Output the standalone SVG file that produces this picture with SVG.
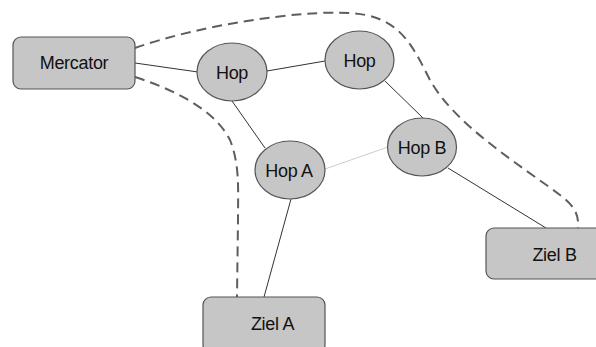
<svg xmlns="http://www.w3.org/2000/svg" width="596" height="347" viewBox="0 0 596 347">
<style>
.node{fill:#c6c6c6;stroke:#555;stroke-width:1.2}
.lbl{font-family:"Liberation Sans",Arial,sans-serif;font-size:18px;fill:#111;text-anchor:middle;letter-spacing:-0.3px}
.ln{stroke:#333;stroke-width:1;fill:none}
.lt{stroke:#ccc;stroke-width:1;fill:none}
.ds{stroke:#5e5e5e;stroke-width:2;fill:none;stroke-dasharray:10,6}
</style>
<rect width="596" height="347" fill="#fff"/>
<g id="connectors">
<line class="ln" x1="135" y1="63" x2="198" y2="72"/>
<line class="ln" x1="267" y1="71" x2="325" y2="61"/>
<line class="ln" x1="385" y1="81" x2="423" y2="118"/>
<line class="ln" x1="232" y1="101" x2="265" y2="148"/>
<line class="lt" x1="325" y1="169" x2="388" y2="147"/>
<line class="ln" x1="291" y1="199" x2="264" y2="297"/>
<line class="ln" x1="448" y1="168" x2="546" y2="228"/>
<path class="ds" d="M135,48 C200,25 300,10 350,13 C400,16 412,45 430,80 C455,125 520,165 560,195 C580,210 578,220 578,228"/>
<path class="ds" d="M135,77 C175,90 215,110 230,140 C240,165 238,190 238,220 L237,297"/>
</g>
<g id="mercator">
<rect class="node" x="13" y="37" width="122" height="52" rx="8"/>
<text class="lbl" x="74" y="69">Mercator</text>
</g>
<g id="hop1">
<ellipse class="node" cx="232" cy="72" rx="35" ry="29"/>
<text class="lbl" x="232" y="79">Hop</text>
</g>
<g id="hop2">
<ellipse class="node" cx="359.5" cy="60" rx="34.5" ry="29"/>
<text class="lbl" x="359.5" y="67">Hop</text>
</g>
<g id="hopA">
<ellipse class="node" cx="290" cy="170" rx="35" ry="29"/>
<text class="lbl" x="289" y="177">Hop A</text>
</g>
<g id="hopB">
<ellipse class="node" cx="422" cy="147" rx="34.5" ry="29"/>
<text class="lbl" x="422" y="154">Hop B</text>
</g>
<g id="zielA">
<rect class="node" x="203" y="297" width="122" height="56" rx="8"/>
<text class="lbl" x="272.5" y="330">Ziel A</text>
</g>
<g id="zielB">
<rect class="node" x="486" y="228" width="122" height="51" rx="8"/>
<text class="lbl" x="554.5" y="261">Ziel B</text>
</g>
</svg>
